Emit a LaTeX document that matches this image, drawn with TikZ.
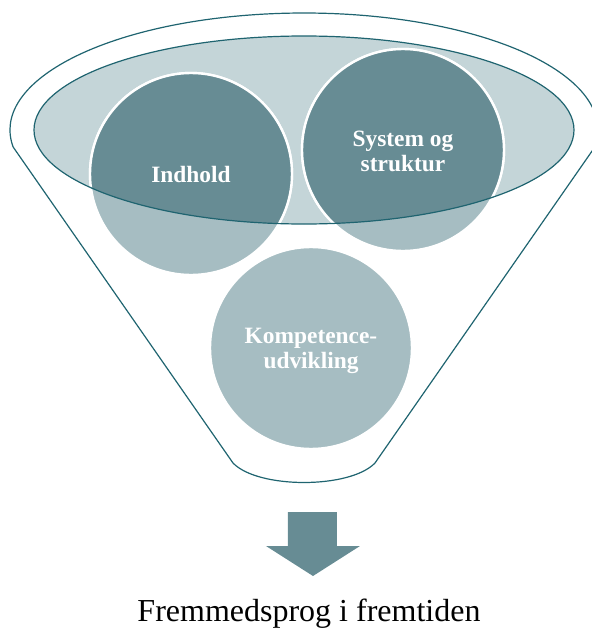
\documentclass[tikz,border=0pt]{standalone}
\usepackage{fontspec}
\setmainfont{Liberation Serif}
\definecolor{tealdark}{HTML}{678C94}
\definecolor{teallight}{HTML}{A6BDC2}
\definecolor{tealpale}{HTML}{C4D5D8}
\definecolor{tealrim}{HTML}{1F6470}
\tikzset{
    rim/.style={draw=tealrim, line width=0.6pt},
    bubble/.style={circle, draw=white, line width=1.2pt, fill=teallight, minimum size=101pt, inner sep=0},
    tag/.style={align=center, text=white, font=\bfseries\fontsize{11.7}{12.5}\selectfont}
}

\begin{document}
\begin{tikzpicture}[x=0.5pt, y=0.5pt]
    \useasboundingbox (0,0) rectangle (592,629);
    % funnel body
    \draw[rim] (304,499) ++(188.35:294 and 117)
        arc[start angle=188.35, end angle=-8.35, x radius=294, y radius=117]
        -- (375,166) .. controls (350,140) and (258,140) .. (233,166) -- cycle;
    \fill[tealpale] (304,499) ellipse[x radius=270, y radius=94];
    % the three bubbles
    \node[bubble] (indhold) at (191,455) {};
    \node[bubble] (system) at (403,479) {};
    \node[bubble] (kompetence) at (311,281) {};
    \begin{scope}
        \clip (304,499) ellipse[x radius=270, y radius=94];
        \filldraw[fill=tealdark, draw=white, line width=1.2pt] (indhold) circle[radius=101];
        \filldraw[fill=tealdark, draw=white, line width=1.2pt] (system) circle[radius=101];
    \end{scope}
    \draw[rim] (304,499) ellipse[x radius=270, y radius=94];
    \node[tag] (indholdtxt) at (indhold) {Indhold};
    \node[tag] (systemtxt) at ([yshift=-0.5pt]system) {System og\\struktur};
    \node[tag] (kompetencetxt) at ([yshift=-1.5pt]kompetence) {Kompetence-\\udvikling};
    % arrow and result
    \fill[tealdark] (288,117) -- (337,117) -- (337,83) -- (360,83) -- (313,53)
        -- (266,83) -- (288,83) -- cycle;
    \node[anchor=base, font=\fontsize{16}{18}\selectfont] (result) at (309,7) {Fremmedsprog i fremtiden};
\end{tikzpicture}
\end{document}
